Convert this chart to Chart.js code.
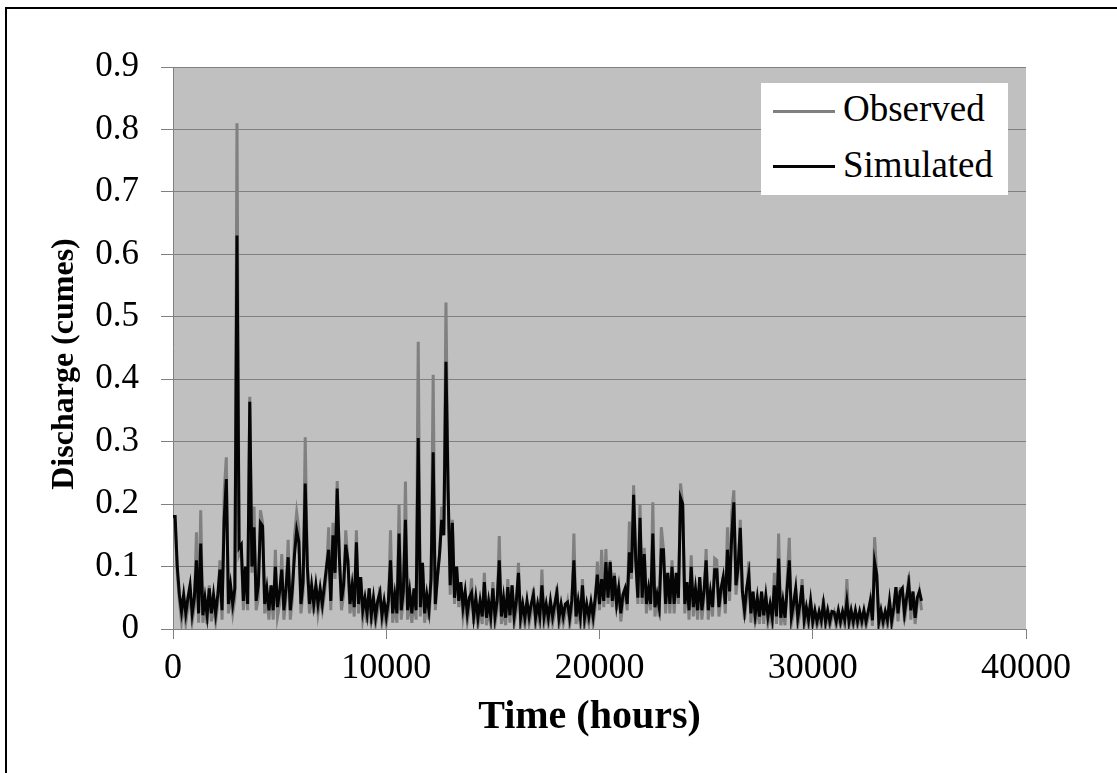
<!DOCTYPE html>
<html lang="en">
<head>
  <meta charset="UTF-8">
  <title>Observed vs simulated discharge</title>
  <script src="https://cdn.jsdelivr.net/npm/chart.js"></script>
  <style>
    body {
      margin: 0;
      padding: 0;
      background: #fff;
      overflow: hidden;
      font-family: "Liberation Serif", "Times New Roman", serif;
    }
    #wrap {
      position: relative;
      width: 1117px;
      height: 773px;
    }
    #frame {
      position: absolute;
      left: 5px;
      top: 7px;
      width: 1300px;
      height: 900px;
      border-left: 2px solid #000;
      border-top: 2px solid #000;
    }
    #legend {
      position: absolute;
      left: 761px;
      top: 83px;
      width: 247px;
      height: 112px;
      background: #fff;
    }
    #legend .swatch {
      position: absolute;
      left: 12px;
      width: 62px;
      height: 3px;
    }
    #legend .text {
      position: absolute;
      left: 82px;
      font-size: 37px;
      line-height: 40px;
      color: #000;
      white-space: nowrap;
    }
  </style>
</head>
<body>
  <div id="wrap">
    <div id="frame"></div>
    <canvas id="flowChart" width="1117" height="773"></canvas>
    <div id="legend"></div>
  </div>

  <script>
    // hourly record, sampled every 100 hours (0 .. 35100 h)
    const stepHours = 100;

    const observed = [
      0.18, 0.17, 0.09, 0.045, 0.012, 0.04, 0.01, 0.035, 0.05, 0.012,
      0.035, 0.155, 0.01, 0.19, 0.01, 0.035, 0.008, 0.07, 0.012, 0.04,
      0.012, 0.04, 0.11, 0.015, 0.22, 0.275, 0.025, 0.055, 0.025, 0.05,
      0.81, 0.12, 0.13, 0.03, 0.09, 0.03, 0.372, 0.09, 0.196, 0.03,
      0.05, 0.19, 0.17, 0.025, 0.05, 0.015, 0.07, 0.015, 0.127, 0.02,
      0.04, 0.12, 0.015, 0.05, 0.143, 0.015, 0.05, 0.15, 0.187, 0.16,
      0.025, 0.06, 0.307, 0.1, 0.025, 0.055, 0.025, 0.07, 0.025, 0.05,
      0.03, 0.055, 0.09, 0.163, 0.03, 0.17, 0.08, 0.237, 0.115, 0.03,
      0.055, 0.158, 0.11, 0.025, 0.055, 0.02, 0.158, 0.025, 0.083, 0.015,
      0.035, 0.01, 0.065, 0.008, 0.035, 0.008, 0.03, 0.068, 0.01, 0.03,
      0.008, 0.03, 0.158, 0.01, 0.04, 0.01, 0.2, 0.015, 0.045, 0.236,
      0.015, 0.045, 0.01, 0.05, 0.015, 0.46, 0.02, 0.106, 0.01, 0.04,
      0.015, 0.07, 0.407, 0.03, 0.083, 0.12, 0.196, 0.16, 0.523, 0.222,
      0.055, 0.175, 0.04, 0.1, 0.035, 0.065, 0.02, 0.045, 0.012, 0.035,
      0.081, 0.008, 0.045, 0.006, 0.03, 0.008, 0.09, 0.006, 0.03, 0.008,
      0.075, 0.008, 0.03, 0.149, 0.008, 0.035, 0.006, 0.08, 0.01, 0.07,
      0.008, 0.03, 0.106, 0.006, 0.025, 0.006, 0.04, 0.008, 0.025, 0.065,
      0.006, 0.025, 0.008, 0.095, 0.008, 0.025, 0.006, 0.03, 0.008, 0.025,
      0.068, 0.006, 0.025, 0.008, 0.025, 0.043, 0.006, 0.03, 0.153, 0.008,
      0.03, 0.008, 0.08, 0.006, 0.025, 0.008, 0.043, 0.008, 0.035, 0.108,
      0.03, 0.127, 0.035, 0.128, 0.04, 0.11, 0.035, 0.09, 0.03, 0.07,
      0.012, 0.045, 0.06, 0.03, 0.172, 0.08, 0.23, 0.11, 0.04, 0.199,
      0.04, 0.13, 0.025, 0.065, 0.03, 0.203, 0.02, 0.05, 0.02, 0.163,
      0.127, 0.025, 0.09, 0.025, 0.11, 0.025, 0.09, 0.04, 0.233, 0.2,
      0.025, 0.075, 0.015, 0.118, 0.02, 0.065, 0.015, 0.083, 0.015, 0.05,
      0.128, 0.015, 0.06, 0.02, 0.113, 0.11, 0.02, 0.055, 0.083, 0.025,
      0.163, 0.045, 0.187, 0.222, 0.055, 0.09, 0.175, 0.06, 0.015, 0.05,
      0.108, 0.01, 0.06, 0.008, 0.035, 0.008, 0.06, 0.008, 0.053, 0.008,
      0.025, 0.006, 0.09, 0.008, 0.153, 0.006, 0.03, 0.006, 0.08, 0.146,
      0.008, 0.025, 0.065, 0.006, 0.025, 0.08, 0.005, 0.02, 0.005, 0.045,
      0.005, 0.02, 0.004, 0.018, 0.005, 0.05, 0.004, 0.02, 0.004, 0.018,
      0.027, 0.004, 0.02, 0.005, 0.018, 0.005, 0.08, 0.004, 0.02, 0.004,
      0.02, 0.004, 0.018, 0.005, 0.02, 0.004, 0.018, 0.045, 0.005, 0.147,
      0.087, 0.004, 0.02, 0.004, 0.018, 0.005, 0.045, 0.004, 0.025, 0.067,
      0.012, 0.065, 0.065, 0.012, 0.04, 0.086, 0.015, 0.06, 0.008, 0.04,
      0.06, 0.03
    ];

    const simulated = [
      0.18, 0.18, 0.1, 0.055, 0.028, 0.055, 0.025, 0.05, 0.07, 0.025,
      0.05, 0.11, 0.025, 0.137, 0.022, 0.05, 0.022, 0.065, 0.025, 0.055,
      0.025, 0.055, 0.095, 0.03, 0.175, 0.24, 0.04, 0.07, 0.04, 0.065,
      0.63, 0.13, 0.135, 0.045, 0.1, 0.04, 0.364, 0.1, 0.163, 0.045,
      0.07, 0.17, 0.165, 0.04, 0.065, 0.03, 0.07, 0.03, 0.1, 0.035,
      0.06, 0.095, 0.03, 0.065, 0.115, 0.03, 0.065, 0.12, 0.158, 0.14,
      0.04, 0.075, 0.233, 0.1, 0.04, 0.07, 0.04, 0.07, 0.04, 0.065,
      0.04, 0.07, 0.1, 0.127, 0.045, 0.15, 0.09, 0.225, 0.115, 0.045,
      0.07, 0.135, 0.11, 0.04, 0.07, 0.035, 0.139, 0.04, 0.083, 0.03,
      0.05, 0.025, 0.065, 0.022, 0.05, 0.02, 0.045, 0.058, 0.022, 0.045,
      0.02, 0.045, 0.11, 0.025, 0.055, 0.025, 0.153, 0.03, 0.06, 0.175,
      0.03, 0.06, 0.025, 0.065, 0.03, 0.306, 0.035, 0.106, 0.025, 0.055,
      0.03, 0.08, 0.283, 0.04, 0.083, 0.12, 0.175, 0.15, 0.428, 0.222,
      0.07, 0.17, 0.05, 0.1, 0.045, 0.075, 0.035, 0.06, 0.025, 0.05,
      0.058, 0.02, 0.05, 0.018, 0.045, 0.02, 0.075, 0.018, 0.045, 0.02,
      0.065, 0.02, 0.045, 0.11, 0.02, 0.05, 0.018, 0.067, 0.022, 0.07,
      0.02, 0.045, 0.09, 0.018, 0.04, 0.018, 0.045, 0.02, 0.04, 0.055,
      0.018, 0.04, 0.02, 0.07, 0.02, 0.04, 0.018, 0.045, 0.02, 0.04,
      0.058, 0.018, 0.04, 0.02, 0.04, 0.043, 0.018, 0.045, 0.11, 0.02,
      0.045, 0.02, 0.07, 0.018, 0.04, 0.02, 0.043, 0.02, 0.05, 0.087,
      0.04, 0.08, 0.045, 0.107, 0.05, 0.107, 0.045, 0.085, 0.04, 0.065,
      0.025, 0.055, 0.065, 0.04, 0.123, 0.09, 0.215, 0.11, 0.05, 0.178,
      0.05, 0.12, 0.04, 0.065, 0.04, 0.153, 0.035, 0.055, 0.035, 0.127,
      0.127, 0.04, 0.09, 0.04, 0.1, 0.04, 0.09, 0.05, 0.21, 0.2,
      0.04, 0.075, 0.03, 0.1, 0.035, 0.065, 0.03, 0.083, 0.03, 0.06,
      0.11, 0.03, 0.06, 0.035, 0.095, 0.095, 0.035, 0.065, 0.083, 0.04,
      0.127, 0.06, 0.15, 0.203, 0.07, 0.1, 0.162, 0.06, 0.03, 0.065,
      0.087, 0.025, 0.06, 0.022, 0.05, 0.02, 0.06, 0.022, 0.053, 0.02,
      0.04, 0.018, 0.07, 0.02, 0.113, 0.018, 0.045, 0.018, 0.065, 0.11,
      0.02, 0.04, 0.065, 0.018, 0.04, 0.07, 0.015, 0.035, 0.015, 0.045,
      0.012, 0.03, 0.012, 0.028, 0.014, 0.04, 0.012, 0.03, 0.012, 0.028,
      0.027, 0.012, 0.03, 0.012, 0.028, 0.014, 0.044, 0.012, 0.03, 0.012,
      0.03, 0.012, 0.028, 0.013, 0.03, 0.012, 0.028, 0.045, 0.014, 0.107,
      0.087, 0.012, 0.03, 0.012, 0.028, 0.014, 0.045, 0.013, 0.035, 0.067,
      0.025, 0.06, 0.065, 0.025, 0.05, 0.073, 0.03, 0.06, 0.018, 0.05,
      0.06, 0.045
    ];

    const seriesNames = ["Observed", "Simulated"];
    const seriesColors = ["#808080", "#050505"];
    const xTicks = [0, 10000, 20000, 30000, 40000];
    const yTicks = [0, 0.1, 0.2, 0.3, 0.4, 0.5, 0.6, 0.7, 0.8, 0.9];

    const hours = observed.map((v, i) => i * stepHours);
    const toPoints = arr => arr.map((v, i) => ({ x: hours[i], y: v }));

    const serif = '"Liberation Serif", "Times New Roman", serif';

    // grey plot area like the original spreadsheet chart
    const plotBackground = {
      id: 'plotBackground',
      beforeDraw(chart) {
        const { ctx, chartArea: a } = chart;
        ctx.save();
        ctx.fillStyle = '#c0c0c0';
        ctx.fillRect(a.left, a.top, a.right - a.left, a.bottom - a.top);
        ctx.restore();
      }
    };

    const ctx = document.getElementById('flowChart').getContext('2d');
    const flowChart = new Chart(ctx, {
      type: 'line',
      data: {
        datasets: [
          {
            label: seriesNames[0],
            data: toPoints(observed),
            borderColor: seriesColors[0],
            borderWidth: 3,
            pointRadius: 0,
            tension: 0,
            order: 1
          },
          {
            label: seriesNames[1],
            data: toPoints(simulated),
            borderColor: seriesColors[1],
            borderWidth: 3,
            pointRadius: 0,
            tension: 0,
            order: 0
          }
        ]
      },
      options: {
        responsive: false,
        animation: false,
        layout: {
          padding: { left: 0, top: 67, right: 91, bottom: 0 }
        },
        plugins: {
          legend: { display: false },
          tooltip: { enabled: false }
        },
        scales: {
          x: {
            type: 'linear',
            min: 0,
            max: 40000,
            afterBuildTicks: s => { s.ticks = xTicks.map(v => ({ value: v })); },
            afterFit: s => { s.height = 144; },
            grid: {
              drawOnChartArea: false,
              drawTicks: true,
              tickLength: 10,
              color: '#808080'
            },
            border: { display: true, color: '#808080', width: 1 },
            ticks: {
              color: '#000',
              padding: 8,
              maxRotation: 0,
              font: { family: serif, size: 36 },
              callback: v => String(v)
            },
            title: {
              display: true,
              text: 'Time (hours)\u2002',
              color: '#000',
              padding: { top: 0, bottom: 31 },
              font: { family: serif, size: 40, weight: 'bold' }
            }
          },
          y: {
            min: 0,
            max: 0.9,
            afterBuildTicks: s => { s.ticks = yTicks.map(v => ({ value: v })); },
            afterFit: s => { s.width = 173; },
            grid: {
              color: '#808080',
              lineWidth: 1,
              tickLength: 12
            },
            border: { display: true, color: '#808080', width: 1 },
            ticks: {
              color: '#000',
              padding: 22,
              font: { family: serif, size: 35 },
              callback: v => String(Math.round(v * 10) / 10)
            },
            title: {
              display: true,
              text: 'Discharge (cumes)\u2003',
              color: '#000',
              padding: { top: 46, bottom: 0 },
              font: { family: serif, size: 32, weight: 'bold' }
            }
          }
        }
      },
      plugins: [plotBackground]
    });

    // legend box in the top right corner of the plot
    const legend = document.getElementById('legend');
    const rows = [{ line: 27, text: 6 }, { line: 82, text: 62 }];
    seriesNames.forEach((name, i) => {
      const sw = document.createElement('div');
      sw.className = 'swatch';
      sw.style.top = rows[i].line + 'px';
      sw.style.background = seriesColors[i];
      legend.appendChild(sw);
      const tx = document.createElement('div');
      tx.className = 'text';
      tx.style.top = rows[i].text + 'px';
      tx.textContent = name;
      legend.appendChild(tx);
    });
  </script>
</body>
</html>
